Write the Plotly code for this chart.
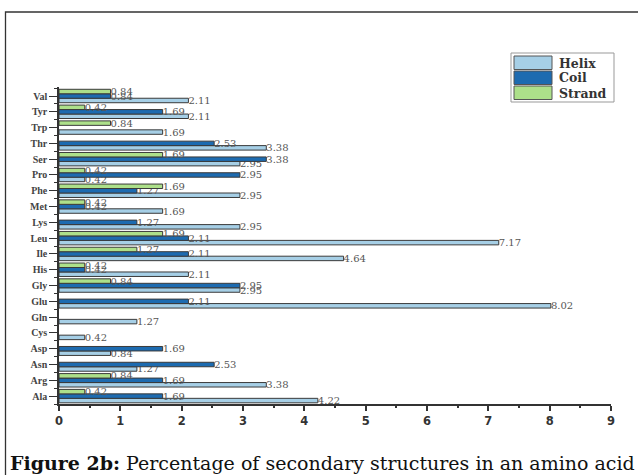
import plotly.graph_objects as go

amino_acids = ["Ala", "Arg", "Asn", "Asp", "Cys", "Gln", "Glu", "Gly", "His", "Ile",
               "Leu", "Lys", "Met", "Phe", "Pro", "Ser", "Thr", "Trp", "Tyr", "Val"]
helix = [4.22, 3.38, 1.27, 0.84, 0.42, 1.27, 8.02, 2.95, 2.11, 4.64,
         7.17, 2.95, 1.69, 2.95, 0.42, 2.95, 3.38, 1.69, 2.11, 2.11]
coil = [1.69, 1.69, 2.53, 1.69, None, None, 2.11, 2.95, 0.42, 2.11,
        2.11, 1.27, 0.42, 1.27, 2.95, 3.38, 2.53, None, 1.69, 0.84]
strand = [0.42, 0.84, None, None, None, None, None, 0.84, 0.42, 1.27,
          1.69, None, 0.42, 1.69, 0.42, 1.69, None, 0.84, 0.42, 0.84]
x_ticks = [0, 1, 2, 3, 4, 5, 6, 7, 8, 9]
series_names = ["Helix", "Coil", "Strand"]
caption_bold = "Figure 2b:"
caption_rest = " Percentage of secondary structures in an amino acid"

colors = ["#a6cfe6", "#1d6bb0", "#ade08a"]
series = list(zip(series_names, [helix, coil, strand], colors))
ypos = list(range(len(amino_acids)))

fig = go.Figure()
for name, vals, color in series:
    fig.add_trace(go.Bar(
        name=name, x=vals, y=ypos, orientation="h",
        marker=dict(color=color, line=dict(color="#3a3a3a", width=1)),
        text=[("%.2f" % v) if v is not None else "" for v in vals],
        textposition="outside", cliponaxis=False, constraintext="none",
        textfont=dict(family="DejaVu Serif", size=10, color="#555"),
        hoverinfo="x+y+name", showlegend=False,
    ))

W, H = 638, 475
ml, mr, mt, mb = 59, 27, 87, 71
pw, ph = W - ml - mr, H - mt - mb

def px_x(p):
    return (p - ml) / pw

def px_y(p):
    return (H - mb - p) / ph

shapes = [dict(
    type="rect", xref="paper", yref="paper",
    x0=px_x(5.5), x1=px_x(645), y0=px_y(485), y1=px_y(12),
    line=dict(color="#333", width=1.3), fillcolor="rgba(0,0,0,0)", layer="below",
)]
annotations = [dict(
    xref="paper", yref="paper", x=px_x(8), y=px_y(463),
    xanchor="left", yanchor="middle", showarrow=False,
    text="<b>" + caption_bold + "</b>" + caption_rest,
    font=dict(family="DejaVu Serif", size=19, color="#111"),
)]

# legend box (drawn by hand to match the wide swatches of the original)
shapes.append(dict(type="rect", xref="paper", yref="paper",
                   x0=px_x(511), x1=px_x(614), y0=px_y(102), y1=px_y(53),
                   line=dict(color="#999", width=1), fillcolor="white", layer="above"))
for i, (name, _, color) in enumerate(series):
    top = 56 + i * 15
    shapes.append(dict(type="rect", xref="paper", yref="paper",
                       x0=px_x(514), x1=px_x(552), y0=px_y(top + 13.5), y1=px_y(top),
                       line=dict(color="#555", width=1), fillcolor=color, layer="above"))
    annotations.append(dict(xref="paper", yref="paper", x=px_x(557), y=px_y(top + 7),
                            xanchor="left", yanchor="middle", showarrow=False, text="<b>" + name + "</b>",
                            font=dict(family="DejaVu Serif", size=12.5, color="#333")))

fig.update_layout(
    width=W, height=H,
    margin=dict(l=ml, r=mr, t=mt, b=mb, pad=0),
    paper_bgcolor="white", plot_bgcolor="white",
    barmode="group", bargap=0.15, bargroupgap=0,
    showlegend=False,
    xaxis=dict(
        range=[0, 9], tickvals=x_ticks, ticktext=[str(t) for t in x_ticks],
        showgrid=False, zeroline=False, showline=True, linecolor="#333", linewidth=1.5,
        ticks="outside", ticklen=5, tickwidth=1.5, tickcolor="#333",
        tickfont=dict(family="DejaVu Sans", size=11.5, color="#333", weight="bold"),
        minor=dict(dtick=0.5, tick0=0.5, ticks="outside", ticklen=2, tickcolor="#333", tickwidth=1.5),
        automargin=False,
    ),
    yaxis=dict(
        range=[-0.5, 19.57], tickvals=ypos, ticktext=amino_acids,
        showgrid=False, zeroline=False, showline=True, linecolor="#333", linewidth=1.5,
        ticks="outside", ticklen=8, tickwidth=1, tickcolor="#333",
        tickfont=dict(family="Liberation Serif", size=10, color="#444", weight="bold"),
        minor=dict(dtick=1, tick0=0.5, ticks="outside", ticklen=3, tickcolor="#333", tickwidth=1),
        automargin=False,
    ),
    shapes=shapes,
    annotations=annotations,
)

fig.write_html("out.html", config={"displayModeBar": False},
               post_script="document.body.style.margin='0';document.body.style.overflow='hidden';")
